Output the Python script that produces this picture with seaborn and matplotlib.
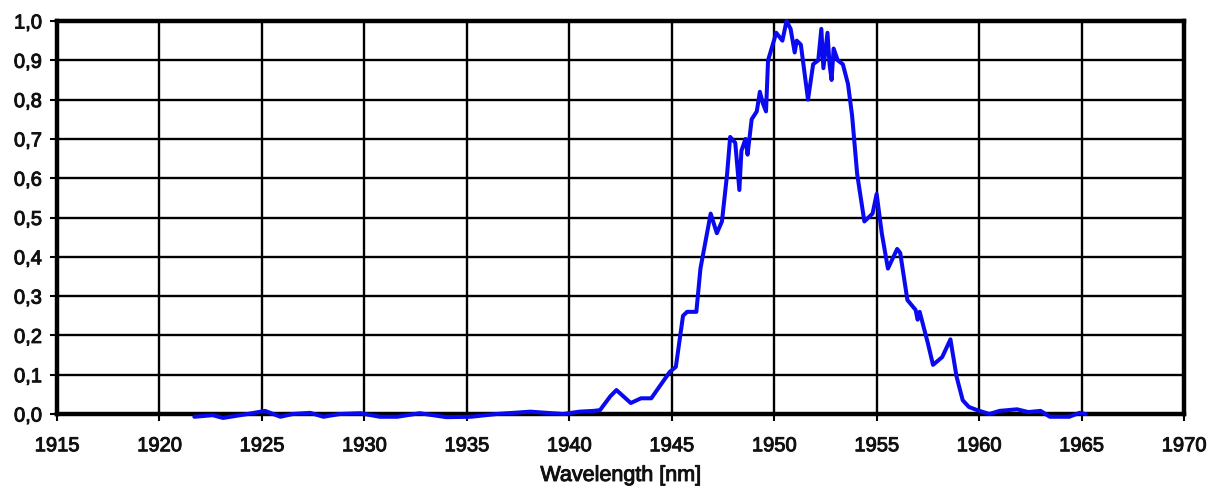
import matplotlib
matplotlib.use("Agg")
import matplotlib.pyplot as plt
import matplotlib.patheffects as pe
import pandas as pd
import seaborn as sns
from matplotlib.ticker import FuncFormatter

# Spectrum
wavelength = [
    1921.7, 1922.6, 1923.1, 1924.3, 1925.15, 1925.9, 1926.5, 1927.35, 1928.0,
    1928.8, 1929.8, 1930.75, 1931.6, 1932.7, 1934.0, 1935.2, 1936.45, 1938.1,
    1938.9, 1939.7, 1940.5, 1941.2, 1941.5, 1942.0, 1942.3, 1943.0, 1943.5,
    1944.0, 1944.9, 1945.2, 1945.55, 1945.75, 1946.2, 1946.4, 1946.9, 1947.2,
    1947.45, 1947.7, 1947.85, 1948.1, 1948.3, 1948.4, 1948.6, 1948.7, 1948.9,
    1949.15, 1949.3, 1949.45, 1949.6, 1949.7, 1950.1, 1950.4, 1950.6, 1950.8,
    1951.0, 1951.1, 1951.3, 1951.65, 1951.9, 1952.15, 1952.3, 1952.4, 1952.6,
    1952.7, 1952.8, 1952.9, 1953.1, 1953.35, 1953.6, 1953.8, 1954.05, 1954.4,
    1954.8, 1955.0, 1955.25, 1955.55, 1956.0, 1956.15, 1956.5, 1956.9, 1957.0,
    1957.1, 1957.5, 1957.75, 1958.2, 1958.6, 1958.9, 1959.2, 1959.5, 1959.9,
    1960.5, 1961.0, 1961.85, 1962.4, 1963.0, 1963.45, 1964.4, 1964.9, 1965.2,
]
intensity = [
    -0.007, -0.003, -0.010, 0.000, 0.008, -0.007, 0.000, 0.003, -0.007,
    0.000, 0.002, -0.007, -0.007, 0.002, -0.008, -0.007, 0.000, 0.006,
    0.003, 0.000, 0.006, 0.008, 0.010, 0.045, 0.061, 0.028, 0.040,
    0.040, 0.107, 0.120, 0.250, 0.260, 0.260, 0.370, 0.510, 0.460,
    0.490, 0.610, 0.705, 0.690, 0.570, 0.670, 0.700, 0.660, 0.750,
    0.770, 0.820, 0.790, 0.770, 0.900, 0.970, 0.950, 1.000, 0.980,
    0.920, 0.950, 0.940, 0.800, 0.890, 0.900, 0.980, 0.880, 0.970,
    0.890, 0.850, 0.930, 0.900, 0.890, 0.840, 0.760, 0.610, 0.490,
    0.510, 0.560, 0.460, 0.370, 0.420, 0.410, 0.290, 0.265, 0.240,
    0.260, 0.180, 0.125, 0.145, 0.190, 0.095, 0.035, 0.018, 0.010,
    0.000, 0.008, 0.012, 0.005, 0.008, -0.007, -0.007, 0.003, 0.000,
]

x_ticks = list(range(1915, 1971, 5))
y_ticks = [round(i * 0.1, 1) for i in range(11)]

TEXT_COLOR = "#111111"


def create_graph() -> None:
    sns.set_style("white")
    plt.rcParams["font.family"] = ["Liberation Sans", "DejaVu Sans"]

    fig = plt.figure(figsize=(12.16, 4.92), dpi=100)
    ax = fig.add_axes([0.0469, 0.1585, 0.9268, 0.7988])

    data = pd.DataFrame({"Wavelength": wavelength, "Intensity": intensity})
    sns.lineplot(
        data=data, x="Wavelength", y="Intensity", ax=ax,
        color="#0a0af0", linewidth=2.9, clip_on=False, zorder=5,
        solid_joinstyle="round", solid_capstyle="round",
    )

    style_axes(ax)
    fig.savefig("out.png", dpi=100)


def style_axes(ax) -> None:
    ax.set_xlim(1915, 1970)
    ax.set_ylim(0, 1.0)
    ax.set_xticks(x_ticks)
    ax.set_yticks(y_ticks)
    ax.yaxis.set_major_formatter(
        FuncFormatter(lambda v, _: f"{v:.1f}".replace(".", ","))
    )

    ax.grid(True, color="black", linewidth=1.7)
    ax.set_axisbelow(True)

    for side in ["bottom", "top", "left", "right"]:
        ax.spines[side].set_visible(True)
        ax.spines[side].set_color("black")
        ax.spines[side].set_linewidth(3.2)
        ax.spines[side].set_zorder(4)

    ax.tick_params(
        axis="both", direction="out", length=5, width=1.5,
        color="black", labelsize=14.5, labelcolor=TEXT_COLOR,
        bottom=True, left=True,
    )
    ax.tick_params(axis="x", pad=11)
    ax.tick_params(axis="y", pad=6)

    ax.set_xlabel(
        "Wavelength [nm]", fontsize=15.5, labelpad=7, color=TEXT_COLOR,
    )
    ax.set_ylabel("")

    # slightly heavier strokes, like the scanned original
    heavier = [pe.withStroke(linewidth=0.7, foreground=TEXT_COLOR)]
    for label in ax.get_xticklabels() + ax.get_yticklabels():
        label.set_path_effects(heavier)
    ax.xaxis.label.set_path_effects(heavier)


create_graph()
